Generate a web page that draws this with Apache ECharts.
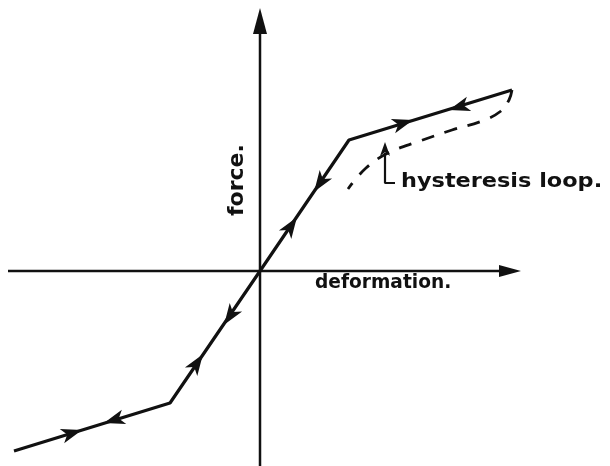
<!DOCTYPE html>
<html>
<head>
<meta charset="utf-8">
<script src="https://cdn.jsdelivr.net/npm/echarts@6/dist/echarts.min.js"></script>
<style>
html,body{margin:0;padding:0;background:#fff;}
#c{width:610px;height:466px;}
</style>
</head>
<body>
<div id="c"></div>
<script>
// Force–deformation characteristic (arbitrary units, origin at axes crossing)
var loadingPath = [[-246,-180],[-90,-132],[0,0],[89,131],[252,181]];
var hysteresisPath = [[252,181],[249,171],[241,160],[222,150],[192,141],[160,130],[128,118],[106,103],[88,82]];
// arrows on the curve: [deformation, force, segment index, direction (+1 forward / -1 backward)]
var curveArrows = [
  [-188,-162,0,1],[-146,-149,0,-1],
  [-63,-92,1,1],[-30,-45,1,-1],
  [31,45,2,1],[60,88,2,-1],
  [143,148,3,1],[199,164,3,-1]
];
var xAxisLine = [[-252,0],[250,0]];
var yAxisLine = [[0,-196],[0,250]];
var bracketLine = [[125,118],[125,88],[135,88]];
var labels = {x:'deformation.', y:'force.', loop:'hysteresis loop.'};

var chart = echarts.init(document.getElementById('c'));
var ink = '#111';
var headPath = 'path://M0,-10 L7,9 L0,4 L-7,9 Z';
var triPath = 'path://M0,-10 L6,10 L-6,10 Z';

chart.setOption({
  backgroundColor:'#fff',
  animation:false,
  grid:{left:0,right:0,top:0,bottom:0},
  xAxis:{type:'value',min:-260,max:350,show:false},
  yAxis:{type:'value',min:-195,max:271,show:false},
  series:[
    {type:'line',data:xAxisLine,showSymbol:false,lineStyle:{color:ink,width:2.5}},
    {type:'line',data:yAxisLine,showSymbol:false,lineStyle:{color:ink,width:2.5}},
    {type:'line',data:loadingPath,showSymbol:false,lineStyle:{color:ink,width:3.2}},
    {type:'line',data:hysteresisPath,smooth:0.4,showSymbol:false,lineStyle:{color:ink,width:2.8,type:[13,11]}},
    {type:'line',data:bracketLine,showSymbol:false,lineStyle:{color:ink,width:2.2}}
  ]
});

function px(p){return chart.convertToPixel({gridIndex:0},p);}
function ang(a,b){var A=px(a),B=px(b);return Math.atan2(-(B[1]-A[1]),B[0]-A[0])*180/Math.PI-90;}

var arrowData = curveArrows.map(function(a){
  var s = loadingPath[a[2]], e = loadingPath[a[2]+1];
  var r = a[3] > 0 ? ang(s,e) : ang(e,s);
  return {value:[a[0],a[1]],symbol:headPath,symbolSize:[15,21],symbolRotate:r};
});
arrowData.push({value:[yAxisLine[1][0],yAxisLine[1][1]],symbol:triPath,symbolSize:[14,26],symbolRotate:0});
arrowData.push({value:[xAxisLine[1][0],xAxisLine[1][1]],symbol:triPath,symbolSize:[12,22],symbolRotate:-90});
arrowData.push({value:[bracketLine[0][0],bracketLine[0][1]+4],symbol:headPath,symbolSize:[10,14],symbolRotate:0});

chart.setOption({
  series:[
    {},{},{},{},{},
    {type:'scatter',data:arrowData,itemStyle:{color:ink,opacity:1},silent:true}
  ],
  graphic:[
    {type:'text',x:315,y:273,scaleX:0.93,style:{text:labels.x,font:'bold 20px "DejaVu Sans"',fill:ink}},
    {type:'text',x:401,y:172,scaleX:1.12,style:{text:labels.loop,font:'bold 20px "DejaVu Sans"',fill:ink}},
    {type:'text',x:226,y:216,rotation:Math.PI/2,style:{text:labels.y,font:'bold 22px "DejaVu Sans"',fill:ink}}
  ]
});
</script>
</body>
</html>
